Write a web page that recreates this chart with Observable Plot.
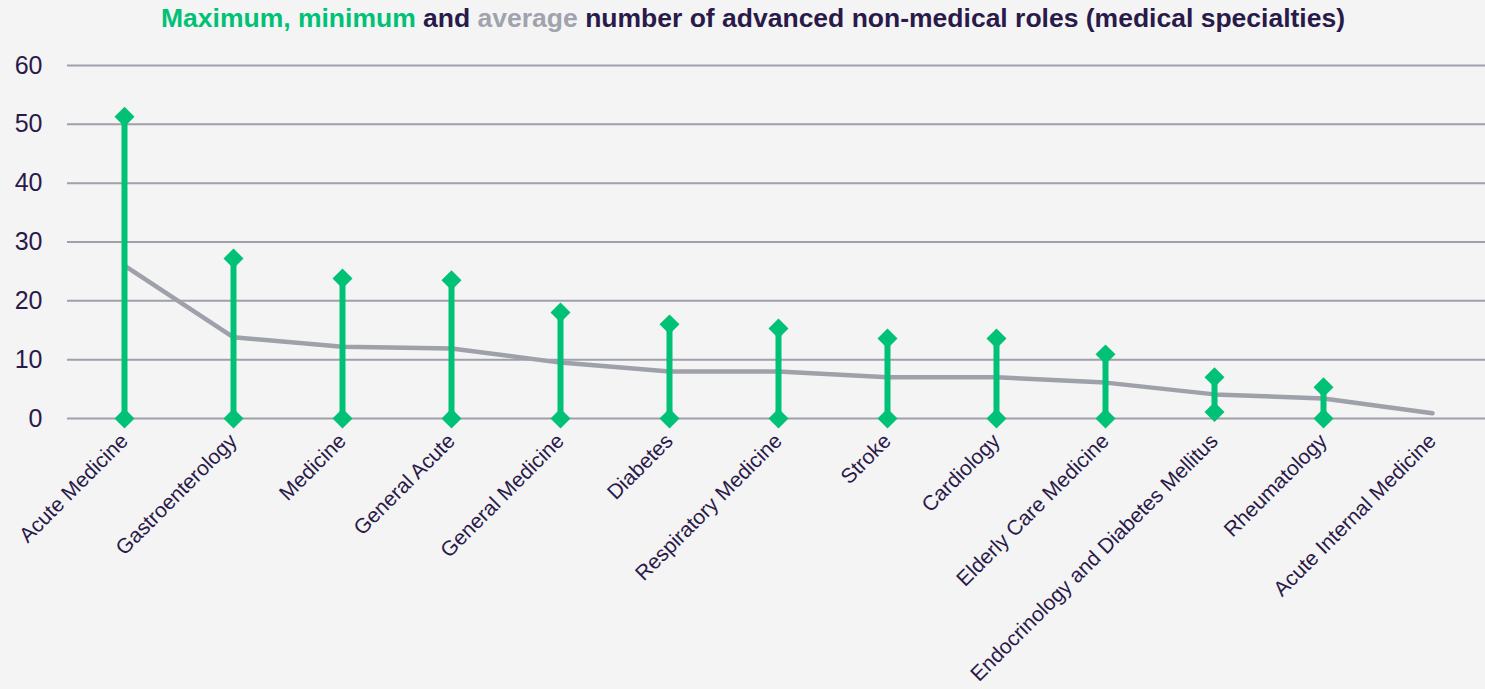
<!DOCTYPE html>
<html>
<head>
<meta charset="utf-8">
<script src="https://cdn.jsdelivr.net/npm/d3@7"></script>
<script src="https://cdn.jsdelivr.net/npm/@observablehq/plot@0.6"></script>
<style>
  html, body { margin: 0; padding: 0; background: #f4f4f4; overflow: hidden; }
  #title { font-family: "Liberation Sans", Arial, sans-serif; font-weight: bold; font-size: 26.5px;
           color: #2a1a4a; text-align: center; height: 40px; line-height: 36px; padding-left: 21px; box-sizing: border-box; white-space: nowrap; }
  .g { color: #00c176; } .a { color: #a0a3ad; }
</style>
</head>
<body>
<div id="title"><span class="g">Maximum, minimum</span> and <span class="a">average</span> number of advanced non-medical roles (medical specialties)</div>
<div id="chart"></div>
<script>
const categories = ["Acute Medicine","Gastroenterology","Medicine","General Acute","General Medicine","Diabetes","Respiratory Medicine","Stroke","Cardiology","Elderly Care Medicine","Endocrinology and Diabetes Mellitus","Rheumatology","Acute Internal Medicine"];
const maxValues = [51.3, 27.2, 23.8, 23.5, 18.0, 16.0, 15.3, 13.6, 13.6, 10.9, 7.0, 5.3, null];
const minValues = [0, 0, 0, 0, 0, 0, 0, 0, 0, 0, 1.1, 0, null];
const avgValues = [26.0, 13.8, 12.2, 11.9, 9.5, 8.0, 8.0, 7.0, 7.0, 6.1, 4.1, 3.4, 0.9];
const yTicks = [0, 10, 20, 30, 40, 50, 60];

const rows = categories.map((c, i) => ({cat: c, max: maxValues[i], min: minValues[i], avg: avgValues[i]}));
const ranged = rows.filter(d => d.max != null);

const green = "#00c176", gray = "#9ea0aa", ink = "#2a1a4a";

const chart = Plot.plot({
  width: 1485,
  height: 649,
  marginTop: 25,
  marginBottom: 271,
  marginLeft: 67,
  marginRight: -4,
  style: {background: "#f4f4f4", fontFamily: "'Liberation Sans', Arial, sans-serif", color: ink},
  x: {type: "point", domain: categories, padding: 0.5, label: null},
  y: {domain: [0, 60], label: null},
  marks: [
    Plot.ruleY(yTicks, {stroke: gray, strokeWidth: 2}),
    Plot.axisY({ticks: yTicks, tickSize: 0, tickPadding: 25, fontSize: 25, fill: ink, label: null}),
    Plot.axisX({tickSize: 0, tickRotate: -45, tickPadding: 19, fontSize: 21, fill: ink, dx: 0, label: null}),
    Plot.line(rows, {x: "cat", y: "avg", stroke: gray, strokeWidth: 4.5, strokeLinecap: "round", strokeLinejoin: "round"}),
    Plot.ruleX(ranged, {x: "cat", y1: "min", y2: "max", stroke: green, strokeWidth: 6}),
    Plot.dot(ranged, {x: "cat", y: "max", symbol: "diamond2", r: 9, fill: green, stroke: "none"}),
    Plot.dot(ranged, {x: "cat", y: "min", symbol: "diamond2", r: 9, fill: green, stroke: "none"})
  ]
});
document.getElementById("chart").appendChild(chart);
</script>
</body>
</html>
